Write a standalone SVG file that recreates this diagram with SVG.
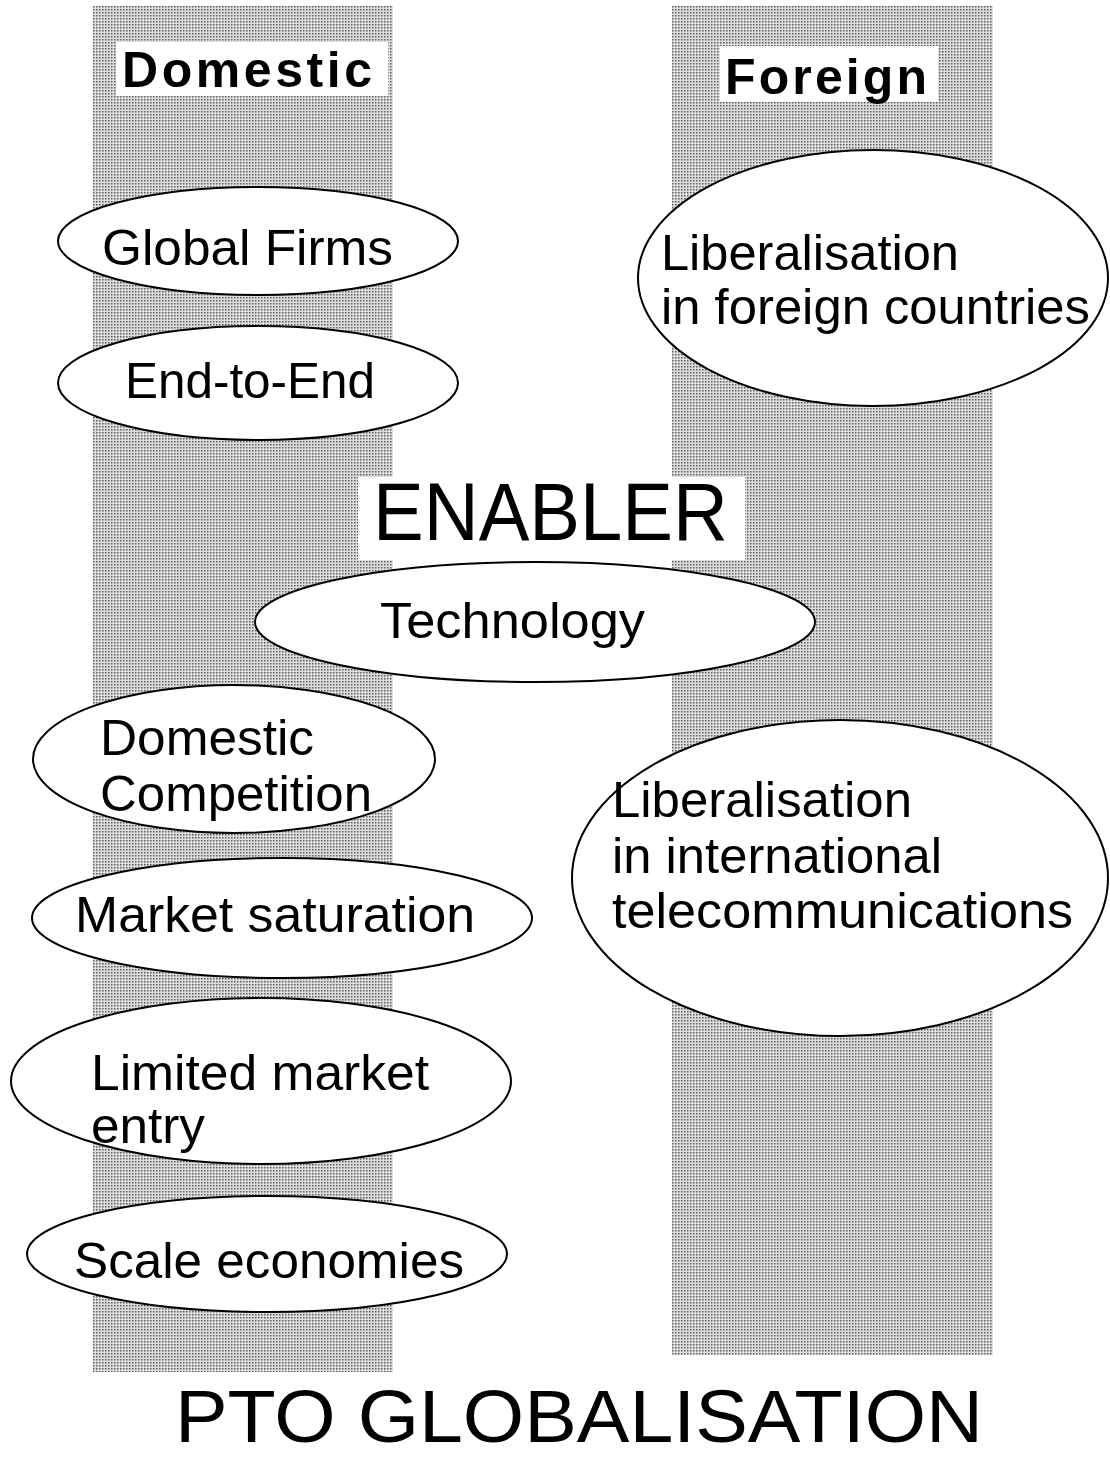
<svg xmlns="http://www.w3.org/2000/svg" width="1110" height="1458" viewBox="0 0 1110 1458">
<style>
.band{fill:url(#dots)}
.box{fill:#fff}
.node ellipse{fill:#fff;stroke:#000;stroke-width:2}
.t{font-family:"Liberation Sans",Arial,sans-serif;font-size:50px;fill:#000}
.h{font-family:"Liberation Sans",Arial,sans-serif;font-weight:bold;font-size:50px;fill:#000}
.big{font-family:"Liberation Sans",Arial,sans-serif;fill:#000}
</style>
<defs>
<pattern id="dots" width="3" height="3" patternUnits="userSpaceOnUse">
<rect width="3" height="3" fill="#dedede"/>
<rect width="1.5" height="1.5" fill="#5a5a5a"/>
</pattern>
</defs>
<rect width="1110" height="1458" fill="#fff"/>
<g id="bands">
<rect class="band" x="93" y="6" width="300" height="1366"/>
<rect class="band" x="672" y="6" width="321" height="1349"/>
</g>
<g id="domestic-label">
<rect class="box" x="116" y="42" width="272" height="54"/>
<text class="h" x="122" y="87" font-size="52" textLength="250" lengthAdjust="spacing">Domestic</text>
</g>
<g id="foreign-label">
<rect class="box" x="720" y="46" width="218" height="56"/>
<text class="h" x="725" y="94" font-size="52" textLength="202" lengthAdjust="spacing">Foreign</text>
</g>
<g id="enabler-label">
<rect class="box" x="358" y="477" width="387" height="83"/>
<text class="big" x="373" y="540" font-size="81" textLength="355" lengthAdjust="spacingAndGlyphs">ENABLER</text>
</g>
<g id="connectors"></g>
<g id="global-firms" class="node">
<ellipse cx="258" cy="241" rx="200" ry="54"/>
<text class="t" x="102" y="265" textLength="291" lengthAdjust="spacingAndGlyphs">Global Firms</text>
</g>
<g id="end-to-end" class="node">
<ellipse cx="258" cy="383" rx="200" ry="57"/>
<text class="t" x="125" y="398" textLength="250" lengthAdjust="spacingAndGlyphs">End-to-End</text>
</g>
<g id="lib-foreign" class="node">
<ellipse cx="873" cy="278" rx="235" ry="128"/>
<text class="t" x="661" y="270" textLength="298" lengthAdjust="spacingAndGlyphs">Liberalisation</text>
<text class="t" x="661" y="324" textLength="429" lengthAdjust="spacingAndGlyphs">in foreign countries</text>
</g>
<g id="technology" class="node">
<ellipse cx="535" cy="622" rx="280" ry="60"/>
<text class="t" x="380" y="638" textLength="265" lengthAdjust="spacingAndGlyphs">Technology</text>
</g>
<g id="domestic-competition" class="node">
<ellipse cx="234" cy="759" rx="201" ry="74"/>
<text class="t" x="100" y="755" textLength="214" lengthAdjust="spacingAndGlyphs">Domestic</text>
<text class="t" x="100" y="811" textLength="272" lengthAdjust="spacingAndGlyphs">Competition</text>
</g>
<g id="lib-international" class="node">
<ellipse cx="840" cy="878" rx="268" ry="158"/>
<text class="t" x="612" y="817" textLength="300" lengthAdjust="spacingAndGlyphs">Liberalisation</text>
<text class="t" x="612" y="873" textLength="330" lengthAdjust="spacingAndGlyphs">in international</text>
<text class="t" x="612" y="928" textLength="461" lengthAdjust="spacingAndGlyphs">telecommunications</text>
</g>
<g id="market-saturation" class="node">
<ellipse cx="282" cy="918" rx="250" ry="60"/>
<text class="t" x="75" y="932" textLength="400" lengthAdjust="spacingAndGlyphs">Market saturation</text>
</g>
<g id="limited-market-entry" class="node">
<ellipse cx="261" cy="1081" rx="250" ry="83"/>
<text class="t" x="91" y="1090" textLength="338" lengthAdjust="spacingAndGlyphs">Limited market</text>
<text class="t" x="91" y="1143" textLength="114" lengthAdjust="spacingAndGlyphs">entry</text>
</g>
<g id="scale-economies" class="node">
<ellipse cx="267" cy="1254" rx="240" ry="58"/>
<text class="t" x="74" y="1278" textLength="390" lengthAdjust="spacingAndGlyphs">Scale economies</text>
</g>
<g id="title">
<text class="big" x="175" y="1442" font-size="74" textLength="808" lengthAdjust="spacingAndGlyphs">PTO GLOBALISATION</text>
</g>
</svg>
